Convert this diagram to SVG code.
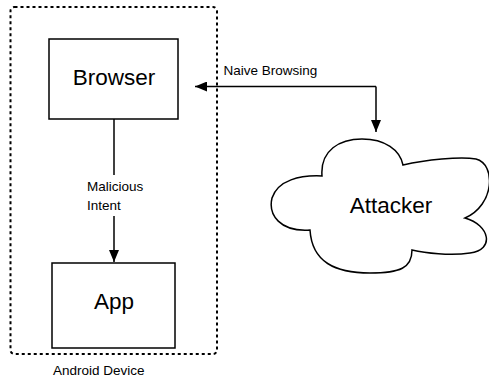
<svg xmlns="http://www.w3.org/2000/svg" width="489" height="379" viewBox="0 0 489 379">
  <style>
    .box { fill: #ffffff; stroke: #000000; stroke-width: 1.5; }
    .frame { fill: none; stroke: #000000; stroke-width: 2; stroke-dasharray: 3 3; }
    .edge { fill: none; stroke: #000000; stroke-width: 1.5; }
    .big { font-family: "Liberation Sans", Arial, sans-serif; font-size: 22.5px; fill: #000000; text-anchor: middle; }
    .small { font-family: "Liberation Sans", Arial, sans-serif; font-size: 13.5px; fill: #000000; }
  </style>
  <defs>
    <marker id="arrow" viewBox="0 0 12 10" refX="12" refY="5" markerWidth="12" markerHeight="10" markerUnits="userSpaceOnUse" orient="auto">
      <path d="M0,0 L12,5 L0,10 Z" fill="#000000"/>
    </marker>
  </defs>

  <rect x="0" y="0" width="489" height="379" fill="#ffffff"/>

  <!-- Device boundary -->
  <g id="android-device">
    <rect class="frame" x="10.5" y="7" width="206.5" height="347" rx="4"/>
    <text class="small" x="53" y="375">Android Device</text>
  </g>

  <g id="browser">
    <rect class="box" x="49" y="39" width="129" height="80"/>
    <text class="big" x="114" y="84.5">Browser</text>
  </g>

  <g id="app">
    <rect class="box" x="52" y="263" width="123" height="85"/>
    <text class="big" x="114" y="309">App</text>
  </g>

  <g id="attacker">
    <path class="box" d="M322,176 C320,150 340,139 362,139 C385,139 400,150 403,165 C425,160 460,156 476,159 C496,164 495,205 465,218 C490,225 495,250 470,253 C450,256 425,253 412,250 C412,268 400,273 370,273 C335,273 312,262 310,230 C280,232 268,215 272,198 C278,180 300,175 322,176 Z"/>
    <text class="big" x="391" y="213">Attacker</text>
  </g>

  <g id="connectors">
    <!-- Browser to App -->
    <line class="edge" x1="114" y1="119" x2="114" y2="175"/>
    <line class="edge" x1="114" y1="216" x2="114" y2="262" marker-end="url(#arrow)"/>
    <text class="small" x="87" y="190.5">Malicious</text>
    <text class="small" x="87" y="210">Intent</text>
    <!-- Browser and Attacker, both ways -->
    <path class="edge" d="M376,86.5 L195,86.5" marker-end="url(#arrow)"/>
    <path class="edge" d="M376,86.5 L376,132" marker-end="url(#arrow)"/>
    <text class="small" x="223.5" y="75">Naive Browsing</text>
  </g>
</svg>
